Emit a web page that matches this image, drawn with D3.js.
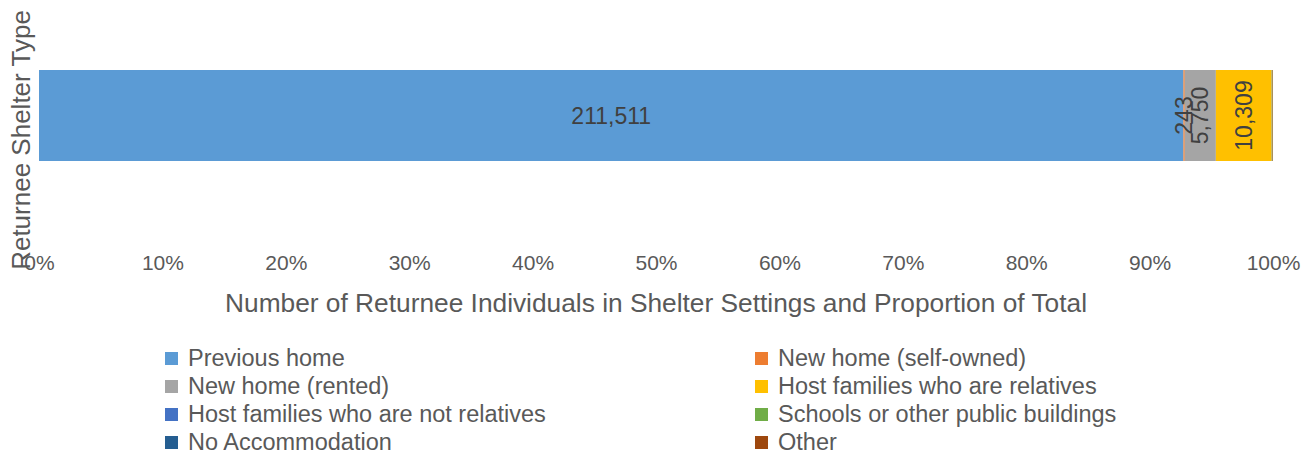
<!DOCTYPE html>
<html>
<head>
<meta charset="utf-8">
<script src="https://cdn.jsdelivr.net/npm/d3@7"></script>
<style>
  html, body { margin: 0; padding: 0; background: #fff; }
  svg { display: block; font-family: "Liberation Sans", Arial, sans-serif; }
</style>
</head>
<body>
<svg id="chart" width="1316" height="454"></svg>
<script>
// Shelter categories, in stacking order
const categories = [
  "Previous home",
  "New home (self-owned)",
  "New home (rented)",
  "Host families who are relatives",
  "Host families who are not relatives",
  "Schools or other public buildings",
  "No Accommodation",
  "Other"
];
// Returnee individuals per shelter type
const values = [211511, 243, 5750, 10309, 40, 110, 10, 90];
// Which segments carry a value label, and whether it is rotated
const labelShown = [true, true, true, true, false, false, false, false];
const labelRotated = [false, true, true, true, false, false, false, false];
const colors = ["#5B9BD5", "#ED7D31", "#A5A5A5", "#FFC000", "#4472C4", "#70AD47", "#255E91", "#9E480E"];
const tickValues = [0, 0.1, 0.2, 0.3, 0.4, 0.5, 0.6, 0.7, 0.8, 0.9, 1.0];

const svg = d3.select("#chart");
const total = d3.sum(values);
const shares = values.map(v => v / total);
let acc = 0;
const segs = values.map((v, i) => {
  const s = { i, name: categories[i], value: v, x0: acc, x1: acc + shares[i] };
  acc += shares[i];
  return s;
});

const x = d3.scaleLinear().domain([0, 1]).range([39, 1273]);
const y = d3.scaleBand().domain(["row"]).range([70, 161]).padding(0);

const textColor = "#595959";

// stacked bar segments
svg.append("g").selectAll("rect").data(segs).join("rect")
  .attr("x", d => x(d.x0))
  .attr("y", y("row"))
  .attr("width", d => Math.max(0, x(d.x1) - x(d.x0)))
  .attr("height", y.bandwidth())
  .attr("fill", d => colors[d.i]);

// value labels
const cy = y("row") + y.bandwidth() / 2;
const lab = svg.append("g").attr("fill", "#404040").attr("font-size", 23);
segs.filter(d => labelShown[d.i]).forEach(d => {
  const cx = (x(d.x0) + x(d.x1)) / 2;
  const t = lab.append("text")
    .attr("text-anchor", "middle")
    .attr("dominant-baseline", "central")
    .text(d3.format(",")(d.value));
  if (labelRotated[d.i]) t.attr("transform", `translate(${cx},${cy}) rotate(-90)`);
  else t.attr("x", cx).attr("y", cy);
});

// x axis: tick labels only
const axis = d3.axisBottom(x).tickValues(tickValues).tickFormat(d3.format(".0%")).tickSize(0).tickPadding(0);
const ax = svg.append("g").attr("transform", "translate(0,255)").call(axis);
ax.select(".domain").remove();
ax.selectAll("text").attr("font-size", 21).attr("fill", textColor)
  .attr("font-family", "Liberation Sans, Arial, sans-serif");

// axis titles
svg.append("text")
  .attr("x", 656).attr("y", 312)
  .attr("text-anchor", "middle")
  .attr("font-size", 26.3).attr("fill", textColor)
  .text("Number of Returnee  Individuals in Shelter Settings and Proportion of Total");

svg.append("text")
  .attr("transform", "translate(30,140) rotate(-90)")
  .attr("text-anchor", "middle")
  .attr("font-size", 26).attr("fill", textColor)
  .text("Returnee Shelter Type");

// legend, two columns
const legend = svg.append("g");
const colX = [165, 755];
categories.forEach((c, i) => {
  const gx = colX[i % 2];
  const gy = 358 + Math.floor(i / 2) * 28;
  legend.append("rect").attr("x", gx).attr("y", gy - 6).attr("width", 13).attr("height", 13).attr("fill", colors[i]);
  legend.append("text").attr("x", gx + 23).attr("y", gy + 8)
    .attr("font-size", 23.5).attr("fill", textColor).text(c);
});
</script>
</body>
</html>
